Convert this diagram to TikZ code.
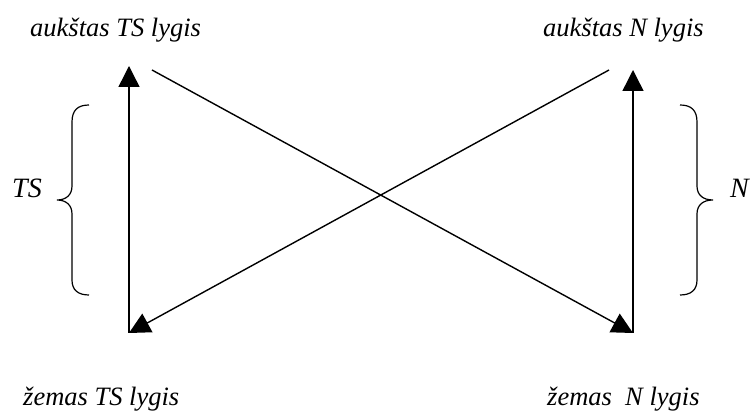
\documentclass[tikz,border=0pt]{standalone}
\usepackage{fontspec}
\setmainfont{Liberation Serif}
\usetikzlibrary{arrows.meta}
\begin{document}
\begin{tikzpicture}[x=1pt,y=-1pt,
  lbl/.style={anchor=base west,inner sep=0pt,font=\fontsize{26.5}{30}\selectfont\itshape},
  big/.style={anchor=base west,inner sep=0pt,font=\fontsize{28}{32}\selectfont\itshape},
  arr/.style={line width=1.4pt,-{Triangle[length=21pt,width=21pt]}},
  brc/.style={line width=1.2pt}]
\useasboundingbox (0,0) rectangle (753,411);
\node[lbl] (hts) at (30,37) {aukštas TS lygis};
\node[lbl] (hn) at (543,37) {aukštas N lygis};
\node[lbl] (lts) at (23,406) {žemas TS lygis};
\node[lbl] (ln) at (547,406) {žemas\ \ N lygis};
\node[big] (ts) at (12,198) {TS};
\node[big] (n) at (730,198) {N};
\coordinate (a1) at (129,333);
\coordinate (a2) at (129,66);
\coordinate (b1) at (633,333);
\coordinate (b2) at (633,70);
\coordinate (c1) at (152,70);
\coordinate (d1) at (609,70);
\draw[arr] (a1) -- (a2);
\draw[arr] (b1) -- (b2);
\draw[arr] (c1) -- (b1);
\draw[arr] (d1) -- (a1);
\draw[brc] (89,105) .. controls (78,105) and (72,110) .. (72,122) -- (72,186)
  .. controls (72,195) and (66,200) .. (57,200)
  .. controls (66,200) and (72,205) .. (72,214) -- (72,280)
  .. controls (72,290) and (78,295) .. (89,295);
\draw[brc] (680,105) .. controls (691,105) and (697,110) .. (697,122) -- (697,186)
  .. controls (697,195) and (703,200) .. (713,200)
  .. controls (703,200) and (697,205) .. (697,214) -- (697,280)
  .. controls (697,290) and (691,295) .. (680,295);
\end{tikzpicture}
\end{document}
